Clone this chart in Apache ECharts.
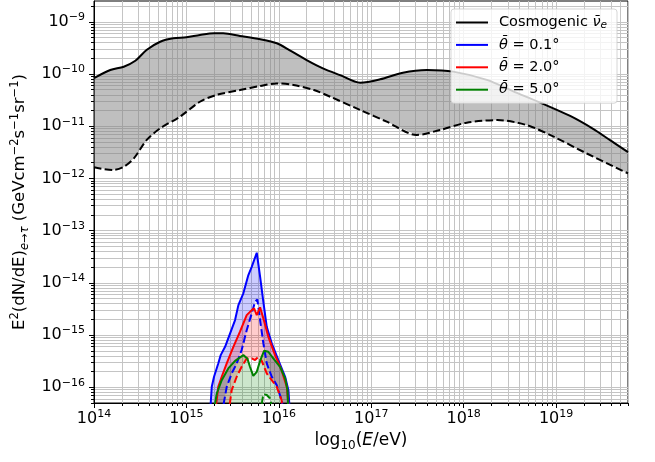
<!DOCTYPE html>
<html>
<head>
<meta charset="utf-8">
<script src="https://cdn.jsdelivr.net/npm/echarts@6/dist/echarts.min.js"></script>
<style>
  html, body { margin: 0; padding: 0; background: #fff; }
  #chart { width: 655px; height: 462px; }
</style>
</head>
<body>
<div id="chart"></div>
<script>
// E in eV, values are E^2 dN/dE in GeV cm^-2 s^-1 sr^-1
const cosmoUpperE = [1.0e14, 1.5e14, 2.1e14, 2.8e14, 3.7e14, 5.2e14, 7.2e14, 1.0e15, 1.4e15, 2.0e15,
  2.5e15, 3.8e15, 6.3e15, 9.5e15, 1.3e16, 2.0e16, 3.0e16, 4.6e16, 7.6e16, 1.25e17,
  2.2e17, 4.0e17, 7.7e17, 1.78e18, 3.4e18, 6.9e18, 1.42e19, 2.54e19, 3.84e19, 6.0e19];
const cosmoUpper = [8.3e-11, 1.19e-10, 1.38e-10, 1.79e-10, 2.88e-10, 4.15e-10, 4.82e-10, 5.04e-10, 5.58e-10, 6.0e-10,
  6.0e-10, 5.35e-10, 4.62e-10, 3.87e-10, 2.88e-10, 1.85e-10, 1.28e-10, 9.5e-11, 6.8e-11, 7.9e-11,
  1.06e-10, 1.19e-10, 1.11e-10, 7.7e-11, 4.7e-11, 2.78e-11, 1.57e-11, 8.8e-12, 5.4e-12, 3.2e-12];

const cosmoLowerE = [1.0e14, 1.6e14, 2.1e14, 2.7e14, 3.7e14, 5.2e14, 8.5e14, 1.4e15, 2.1e15, 3.8e15,
  6.3e15, 9.5e15, 1.44e16, 2.4e16, 3.6e16, 7.6e16, 1.47e17, 3.1e17, 5.6e17, 1.08e18,
  2.3e18, 4.8e18, 9.4e18, 2.15e19, 6.0e19];
const cosmoLower = [1.63e-12, 1.45e-12, 1.67e-12, 2.43e-12, 5.4e-12, 9.1e-12, 1.52e-11, 2.94e-11, 3.96e-11, 4.93e-11,
  5.9e-11, 6.6e-11, 6.15e-11, 4.93e-11, 3.67e-11, 2.04e-11, 1.22e-11, 6.8e-12, 8.5e-12, 1.17e-11,
  1.31e-11, 1.05e-11, 6.3e-12, 3.0e-12, 1.25e-12];

// theta = 0.1 deg
const blueSolidE = [1.80e15, 1.88e15, 1.99e15, 2.21e15, 2.35e15, 2.62e15, 2.97e15, 3.36e15, 3.65e15, 4.13e15,
  4.68e15, 5.09e15, 5.77e15, 6.27e15, 6.80e15, 7.40e15, 8.38e15, 9.88e15, 1.17e16, 1.27e16, 1.32e16];
const blueSolid = [3e-17, 1.02e-16, 1.59e-16, 2.86e-16, 4.13e-16, 5.96e-16, 1.08e-15, 1.94e-15, 3.75e-15, 6.3e-15,
  1.41e-14, 2.03e-14, 3.77e-14, 1.31e-14, 4.34e-15, 1.44e-15, 6.93e-16, 3.32e-16, 1.59e-16, 8.8e-17, 3e-17];
const blueDashE = [2.41e15, 2.73e15, 3.09e15, 3.50e15, 3.96e15, 4.49e15, 5.09e15, 5.53e15, 5.85e15, 6.27e15,
  6.80e15, 7.40e15, 8.38e15, 9.49e15, 1.07e16, 1.2e16];
const blueDash = [3e-17, 1.02e-16, 1.84e-16, 2.86e-16, 5.15e-16, 1.24e-15, 2.6e-15, 4.34e-15, 4.8e-15, 1.94e-15,
  6.93e-16, 2.86e-16, 1.59e-16, 1.1e-16, 5.7e-17, 2e-17];

// theta = 2.0 deg
const redSolidE = [2.04e15, 2.21e15, 2.41e15, 2.73e15, 3.22e15, 3.80e15, 4.49e15, 5.09e15, 5.40e15, 5.77e15,
  6.27e15, 6.80e15, 7.69e15, 9.1e15, 1.07e16, 1.22e16, 1.30e16];
const redSolid = [3e-17, 1.02e-16, 1.59e-16, 2.86e-16, 5.96e-16, 1.16e-15, 2.41e-15, 3.0e-15, 3.24e-15, 2.41e-15,
  3.39e-15, 2.09e-15, 9.3e-16, 4.13e-16, 2.13e-16, 1.02e-16, 3e-17];
const redDashE = [2.84e15, 3.09e15, 3.50e15, 3.96e15, 4.49e15, 5.09e15, 5.53e15, 6.0e15, 6.53e15, 7.40e15,
  8.38e15, 9.49e15, 1.07e16, 1.15e16];
const redDash = [3e-17, 8.8e-17, 1.59e-16, 2.47e-16, 3.57e-16, 3.57e-16, 3.32e-16, 3.84e-16, 3.21e-16, 1.84e-16,
  1.37e-16, 1.02e-16, 5.7e-17, 2e-17];

// theta = 5.0 deg
const greenSolidE = [1.95e15, 2.13e15, 2.41e15, 2.84e15, 3.36e15, 4.13e15, 4.56e15, 4.87e15, 5.29e15, 5.77e15,
  6.27e15, 6.92e15, 7.69e15, 8.71e15, 1.03e16, 1.17e16, 1.24e16, 1.27e16];
const greenSolid = [3e-17, 7.6e-17, 1.37e-16, 2.3e-16, 3.21e-16, 4.13e-16, 3.57e-16, 2.47e-16, 1.66e-16, 1.98e-16,
  3.21e-16, 5.0e-16, 4.79e-16, 3.57e-16, 2.47e-16, 1.48e-16, 8.8e-17, 3e-17];
const greenDashE = [6.27e15, 6.8e15, 7.4e15, 8.04e15, 8.71e15];
const greenDash = [3e-17, 7.4e-17, 7.1e-17, 6.1e-17, 3e-17];

// axis ranges and tick labels
const xMin = 1e14, xMax = 6e19;
const yMin = 5e-17, yMax = 2.5e-9;
const xMajor = [1e14, 1e15, 1e16, 1e17, 1e18, 1e19];
const yMajor = [1e-16, 1e-15, 1e-14, 1e-13, 1e-12, 1e-11, 1e-10, 1e-9];
const minorSteps = [2, 3, 4, 5, 6, 7, 8, 9];

const FONT = 'DejaVu Sans';
const pairs = (xs, ys) => xs.map((x, i) => [x, ys[i]]);

function allTicks(lo, hi) {
  const out = [];
  for (let e = Math.floor(Math.log10(lo)); e <= Math.ceil(Math.log10(hi)); e++) {
    const d = Math.pow(10, e);
    [1].concat(minorSteps).forEach(m => {
      const v = m * d;
      if (v >= lo * 0.999 && v <= hi * 1.001) out.push(v);
    });
  }
  return out;
}

const labelRich = {
  b: { fontFamily: FONT, fontSize: 16, lineHeight: 20, color: '#000' },
  s: { fontFamily: FONT, fontSize: 11, lineHeight: 13, color: '#000', verticalAlign: 'top' }
};
const expLabel = v => {
  const e = Math.round(Math.log10(v));
  return '{b|10}{s|' + (e < 0 ? '\u2212' + (-e) : e) + '}';
};

function band(upper, lower, fill) {
  return {
    type: 'custom',
    silent: true,
    clip: true,
    data: [upper[0]],
    renderItem: (params, api) => {
      const pts = upper.map(p => api.coord(p))
        .concat(lower.slice().reverse().map(p => api.coord(p)));
      return { type: 'polygon', shape: { points: pts }, style: { fill: fill } };
    }
  };
}

function line(name, data, color, dashed, smooth) {
  return {
    name, type: 'line', data, symbol: 'none', silent: true, smooth: smooth || false,
    itemStyle: { color },
    lineStyle: { color, width: 2, type: dashed ? [7.5, 3.3] : 'solid' }
  };
}

const names = ['Cosmogenic', 'theta01', 'theta20', 'theta50'];
const legendText = {
  Cosmogenic: '{g| }{t|Cosmogenic }{i|\u03BD\u0304}{sub|e}',
  theta01: '{g| }{i|\u03B8\u0304}{t| = 0.1\u00B0}',
  theta20: '{g| }{i|\u03B8\u0304}{t| = 2.0\u00B0}',
  theta50: '{g| }{i|\u03B8\u0304}{t| = 5.0\u00B0}'
};

const cosmoU = pairs(cosmoUpperE, cosmoUpper), cosmoL = pairs(cosmoLowerE, cosmoLower);
const bS = pairs(blueSolidE, blueSolid), bD = pairs(blueDashE, blueDash);
const rS = pairs(redSolidE, redSolid), rD = pairs(redDashE, redDash);
const gS = pairs(greenSolidE, greenSolid), gD = pairs(greenDashE, greenDash);

const chart = echarts.init(document.getElementById('chart'));
chart.setOption({
  animation: false,
  backgroundColor: '#fff',
  grid: { left: 94, top: 1, width: 534, height: 402, show: true, borderColor: '#000', borderWidth: 1, backgroundColor: 'transparent' },
  legend: {
    data: names,
    orient: 'vertical',
    left: 451, top: 9,
    padding: [5, 10, 5, 5],
    itemWidth: 32, itemHeight: 2, itemGap: 5.4,
    icon: 'rect',
    selectedMode: false,
    backgroundColor: 'rgba(255,255,255,0.8)',
    borderColor: 'rgba(204,204,204,0.8)',
    borderWidth: 1, borderRadius: 3,
    formatter: n => legendText[n],
    textStyle: {
      fontFamily: FONT, fontSize: 14.5, color: '#000', lineHeight: 17,
      rich: {
        g: { width: 6, lineHeight: 17 },
        t: { fontFamily: FONT, fontSize: 14.5, lineHeight: 17 },
        i: { fontFamily: FONT, fontSize: 14.5, fontStyle: 'italic', lineHeight: 17 },
        sub: { fontFamily: FONT, fontSize: 10.5, fontStyle: 'italic', lineHeight: 12, verticalAlign: 'bottom' }
      }
    }
  },
  xAxis: [
    {
      type: 'log', min: xMin, max: xMax, position: 'bottom',
      axisLine: { show: true, lineStyle: { color: '#000', width: 1 } },
      axisTick: { show: true, customValues: allTicks(xMin, xMax), length: 3, lineStyle: { color: '#000', width: 1 } },
      axisLabel: { show: false },
      splitLine: { show: true, lineStyle: { color: '#c4c4c4', width: 1 } }
    },
    {
      type: 'log', min: xMin, max: xMax, position: 'bottom',
      axisLine: { show: false },
      axisTick: { show: true, customValues: xMajor, length: 5, lineStyle: { color: '#000', width: 1 } },
      axisLabel: { customValues: xMajor, formatter: expLabel, margin: 6, rich: labelRich },
      splitLine: { show: false },
      name: '{n|log}{sub|10}{n|(}{it|E}{n|/eV)}',
      nameLocation: 'middle', nameGap: 27,
      nameTextStyle: {
        rich: {
          n: { fontFamily: FONT, fontSize: 17, lineHeight: 22, color: '#000' },
          it: { fontFamily: FONT, fontSize: 17, lineHeight: 22, fontStyle: 'italic', color: '#000' },
          sub: { fontFamily: FONT, fontSize: 12, lineHeight: 14, color: '#000', verticalAlign: 'bottom' }
        }
      }
    }
  ],
  yAxis: [
    {
      type: 'log', min: yMin, max: yMax, position: 'left',
      axisLine: { show: true, lineStyle: { color: '#000', width: 1 } },
      axisTick: { show: true, customValues: allTicks(yMin, yMax), length: 3, lineStyle: { color: '#000', width: 1 } },
      axisLabel: { show: false },
      splitLine: { show: true, lineStyle: { color: '#c4c4c4', width: 1 } }
    },
    {
      type: 'log', min: yMin, max: yMax, position: 'left',
      axisLine: { show: false },
      axisTick: { show: true, customValues: yMajor, length: 5, lineStyle: { color: '#000', width: 1 } },
      axisLabel: { customValues: yMajor, formatter: expLabel, margin: 9, rich: labelRich },
      splitLine: { show: false },
      name: '{t|E}{sup|2}{t|(dN/dE)}{sub|e\u2192\u03C4}{t| (GeVcm}{sup|\u22122}{t|s}{sup|\u22121}{t|sr}{sup|\u22121}{t|)}',
      nameLocation: 'middle', nameGap: 56, nameRotate: 90,
      nameTextStyle: {
        rich: {
          t: { fontFamily: FONT, fontSize: 16.5, lineHeight: 22, color: '#000' },
          sup: { fontFamily: FONT, fontSize: 11.5, lineHeight: 13, color: '#000', verticalAlign: 'top' },
          sub: { fontFamily: FONT, fontSize: 11.5, lineHeight: 13, fontStyle: 'italic', color: '#000', verticalAlign: 'bottom' }
        }
      }
    }
  ],
  series: [
    band(cosmoU, cosmoL, 'rgba(128,128,128,0.5)'),
    line('Cosmogenic', cosmoU, '#000', false, 0.3),
    line('cosmoLow', cosmoL, '#000', true, 0.3),
    band(bS, bD, 'rgba(0,0,255,0.2)'),
    line('theta01', bS, '#0000ff', false),
    line('theta01d', bD, '#0000ff', true),
    band(rS, rD, 'rgba(255,0,0,0.2)'),
    line('theta20', rS, '#ff0000', false),
    line('theta20d', rD, '#ff0000', true),
    band(gS, gD, 'rgba(0,128,0,0.2)'),
    line('theta50', gS, '#008000', false),
    line('theta50d', gD, '#008000', true)
  ]
});
</script>
</body>
</html>
